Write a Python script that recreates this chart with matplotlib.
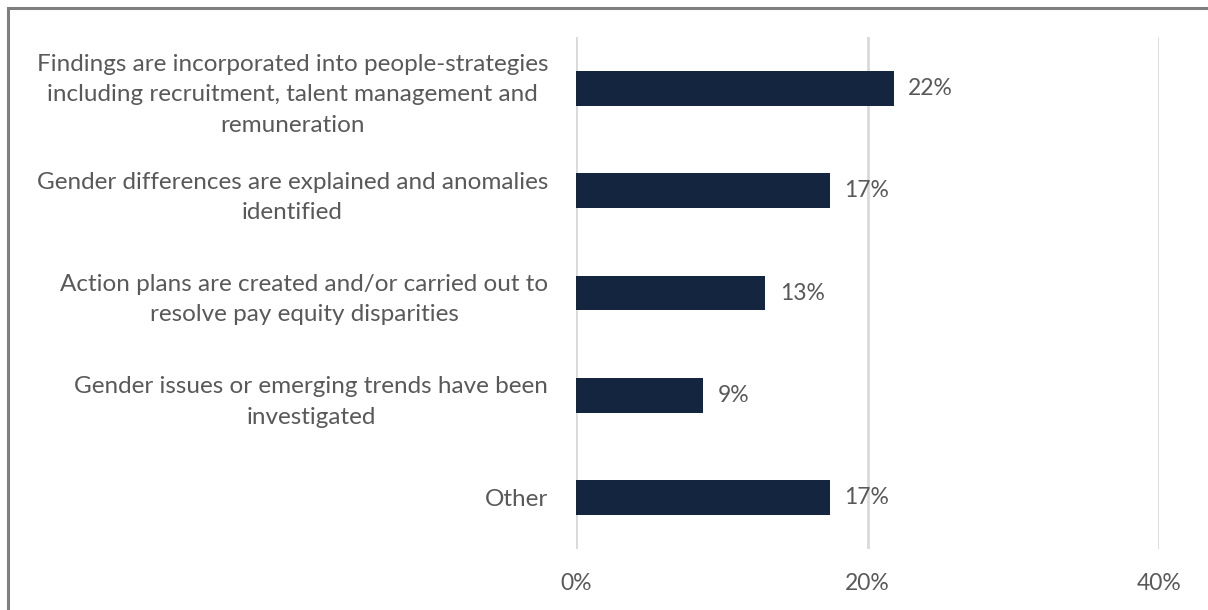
import matplotlib
matplotlib.use("Agg")
import matplotlib.pyplot as plt
from matplotlib.patches import Rectangle

# ---- data ----
categories = [
    "Findings are incorporated into people-strategies\nincluding recruitment, talent management and\nremuneration",
    "Gender differences are explained and anomalies\nidentified",
    "Action plans are created and/or carried out to\nresolve pay equity disparities",
    "Gender issues or emerging trends have been\ninvestigated",
    "Other",
]
values = [21.8, 17.4, 13.0, 8.7, 17.4]
value_labels = ["22%", "17%", "13%", "9%", "17%"]
x_ticks = [0, 20, 40]
x_tick_labels = ["0%", "20%", "40%"]

BAR = "#13253f"
TEXT = "#595959"
GRID = "#d9d9d9"
FRAME = "#7f7f7f"

plt.rcParams.update({
    "font.family": ["Lato", "DejaVu Sans"],
    "font.size": 17,
})

W, H = 1208, 610
fig = plt.figure(figsize=(W / 100, H / 100), dpi=100)
fig.patch.set_facecolor("white")

# outer chart frame (cut off on right/bottom in the reference)
fig.patches.append(Rectangle((8 / W, -0.05), 1.1, 1 - 8 / H + 0.05,
                             transform=fig.transFigure, fill=False,
                             edgecolor=FRAME, linewidth=2.2))

ax = fig.add_axes([576 / W, 1 - 549 / H, (1159 - 576) / W, (549 - 37) / H])
ypos = list(range(len(categories)))
ax.barh(ypos, values, height=0.34, color=BAR, zorder=3)

for y, v, lab in zip(ypos, values, value_labels):
    ax.text(v + 1.0, y, lab, va="center", ha="left", color=TEXT, fontsize=16.5)

ax.set_xlim(0, 40)
ax.set_ylim(len(categories) - 0.5, -0.5)
ax.set_xticks(x_ticks)
ax.set_xticklabels(x_tick_labels, color=TEXT, fontsize=16.5)
ax.set_yticks(ypos)
ax.set_yticklabels(categories, color=TEXT, fontsize=17.5,
                   multialignment="center", linespacing=1.55)
ax.tick_params(axis="x", length=0, pad=17)
ax.tick_params(axis="y", length=0, pad=20)
for sp in ax.spines.values():
    sp.set_visible(False)
ax.grid(axis="x", color=GRID, linewidth=2)
ax.set_axisbelow(True)

fig.savefig("out.png", dpi=100)
